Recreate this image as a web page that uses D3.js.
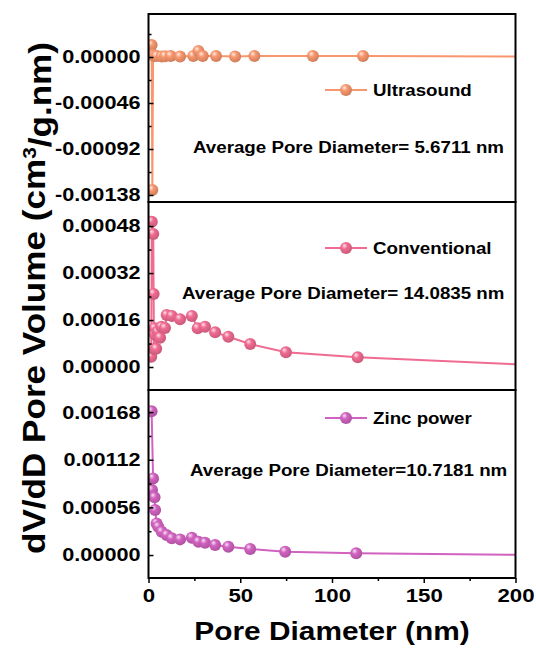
<!DOCTYPE html>
<html>
<head>
<meta charset="utf-8">
<script src="https://cdn.jsdelivr.net/npm/d3@7/dist/d3.min.js"></script>
<style>
  body { margin: 0; background: #fff; }
  text { font-family: Arial, "Liberation Sans", sans-serif; font-weight: bold; fill: #000; }
</style>
</head>
<body>
<svg id="chart" width="536" height="659"></svg>
<script>
// pore size distribution (BJH)
var ultraX = [1.5, 1.7, 2.1, 2.5, 3.2, 4.5, 7.2, 9.0, 12.1, 17.2, 24.4, 27.2, 29.6, 36.8, 47.2, 57.7, 89.6, 116.9, 230];
var ultraY = [0.00004, 0.00012, -0.00133, 0.00002, 0.00001, 0.00001, 0.000005, 0.000008, 0.00001, 0.000004, 0.00001, 0.00006, 0.00001, 0.00001, 0.000005, 0.00001, 0.00001, 0.00001, 0.000003];

var convX = [1.5, 1.8, 2.6, 2.8, 3.0, 3.3, 3.6, 4.2, 5.0, 6.3, 7.0, 9.0, 9.9, 12.7, 17.2, 23.6, 26.8, 30.8, 36.3, 43.5, 55.4, 74.9, 114, 230];
var convY = [0.000035, 0.000495, 0.000453, 0.000249, 0.000061, 0.000132, 0.00011, 0.000062, 0.00012, 0.0001, 0.000137, 0.000133, 0.000177, 0.000174, 0.000163, 0.000174, 0.000132, 0.000137, 0.000118, 0.000103, 0.0000783, 0.00005, 0.000033, 0.000001];

var zincX = [1.7, 2.5, 1.9, 3.3, 3.6, 4.4, 5.3, 7.2, 9.9, 12.7, 17.2, 23.6, 27.2, 30.8, 36.3, 43.5, 55.4, 74.5, 113.2, 230];
var zincY = [0.00169, 0.0009, 0.000764, 0.000678, 0.000529, 0.000372, 0.000333, 0.000274, 0.000235, 0.000196, 0.000184, 0.000203, 0.000156, 0.000144, 0.000117, 0.0000975, 0.0000705, 0.0000388, 0.00002, -0.000004];

var seriesNames = ["Ultrasound", "Conventional", "Zinc power"];
var avgLabels = ["Average Pore Diameter= 5.6711 nm", "Average Pore Diameter= 14.0835 nm", "Average Pore Diameter=10.7181 nm"];

// axis ranges and ticks
var xDomain = [0, 200];
var xMajor = [0, 50, 100, 150, 200];
var xMinor = [25, 75, 125, 175];
var yDomains = [[-0.00145, 0.00043], [-0.0000783, 0.000562], [-0.00027, 0.00194]];
var yMajor = [[0, -0.00046, -0.00092, -0.00138], [0, 0.00016, 0.00032, 0.00048], [0, 0.00056, 0.00112, 0.00168]];
var yMinor = [[0.00023, -0.00023, -0.00069, -0.00115], [0.00008, 0.00024, 0.0004], [0.00028, 0.00084, 0.0014]];

var colours = ["#F8976E", "#F06B92", "#D162C0"];

var SX = 1.17; // the figure's text is a little wider than plain Arial

var svg = d3.select("#chart");
var left = 148.5, right = 515.5;
var panelTops = [14, 202, 390], panelH = 188;

var x = d3.scaleLinear().domain(xDomain).range([left, right]);

var defs = svg.append("defs");

function stretch(sel) {
    sel.each(function() {
        var w = this.getComputedTextLength();
        d3.select(this).attr("textLength", w * SX).attr("lengthAdjust", "spacingAndGlyphs");
    });
}

var fmt = function(v) { return Math.abs(v) < 1e-12 ? "0.00000" : v.toFixed(5); };

var allData = [[ultraX, ultraY], [convX, convY], [zincX, zincY]];

allData.forEach(function(xy, i) {
    var top = panelTops[i];
    var y = d3.scaleLinear().domain(yDomains[i]).range([top + panelH, top]);
    var pts = xy[0].map(function(d, j) { return [d, xy[1][j]]; });
    var col = colours[i];

    // ball style marker
    var grad = defs.append("radialGradient").attr("id", "ball" + i)
        .attr("cx", 0.4).attr("cy", 0.38).attr("r", 0.62).attr("fx", 0.36).attr("fy", 0.3);
    grad.append("stop").attr("offset", 0).attr("stop-color", d3.interpolateRgb(col, "#fff")(0.8));
    grad.append("stop").attr("offset", 0.4).attr("stop-color", col);
    grad.append("stop").attr("offset", 1).attr("stop-color", d3.color(col).darker(0.5));

    defs.append("clipPath").attr("id", "clip" + i)
        .append("rect").attr("x", left).attr("y", top).attr("width", right - left).attr("height", panelH);

    var g = svg.append("g").attr("clip-path", "url(#clip" + i + ")");

    g.append("path")
        .datum(pts)
        .attr("fill", "none")
        .attr("stroke", col)
        .attr("stroke-width", 2)
        .attr("d", d3.line().x(function(d) { return x(d[0]); }).y(function(d) { return y(d[1]); }));

    g.selectAll(".dot" + i)
        .data(pts)
        .join("circle")
        .attr("class", "dot" + i)
        .attr("cx", function(d) { return x(d[0]); })
        .attr("cy", function(d) { return y(d[1]); })
        .attr("r", 6)
        .attr("fill", "url(#ball" + i + ")");

    // y axis, ticks inward
    var ya = svg.append("g").attr("transform", "translate(" + left + ",0)")
        .call(d3.axisLeft(y).tickValues(yMajor[i]).tickSize(-5).tickPadding(8).tickFormat(fmt));
    svg.append("g").attr("transform", "translate(" + left + ",0)")
        .call(d3.axisLeft(y).tickValues(yMinor[i]).tickSize(-3).tickFormat(""));
    ya.selectAll("text").style("font-size", "18.5px");
    stretch(ya.selectAll("text"));

    // frame
    svg.append("rect")
        .attr("x", left).attr("y", top).attr("width", right - left).attr("height", panelH)
        .attr("fill", "none").attr("stroke", "#000").attr("stroke-width", 2);

    // legend
    var ly = [90, 248, 418][i];
    svg.append("line").attr("x1", 325).attr("x2", 367).attr("y1", ly).attr("y2", ly)
        .attr("stroke", col).attr("stroke-width", 2);
    svg.append("circle").attr("cx", 346).attr("cy", ly).attr("r", 6).attr("fill", "url(#ball" + i + ")");
    svg.append("text").attr("x", 373).attr("y", ly + 5.5).style("font-size", "16px")
        .text(seriesNames[i]).call(stretch);

    // average pore diameter note
    var ax = [193, 182, 190][i], ay = [153, 299, 476][i];
    svg.append("text").attr("x", ax).attr("y", ay).style("font-size", "16px")
        .text(avgLabels[i]).call(stretch);
});

svg.selectAll(".domain").remove();

// x axis, ticks outward
var bottom = panelTops[2] + panelH;
var xa = svg.append("g").attr("transform", "translate(0," + bottom + ")")
    .call(d3.axisBottom(x).tickValues(xMajor).tickSize(5).tickPadding(6));
svg.append("g").attr("transform", "translate(0," + bottom + ")")
    .call(d3.axisBottom(x).tickValues(xMinor).tickSize(3).tickFormat(""));
xa.select(".domain").remove();
svg.selectAll(".domain").remove();
svg.selectAll(".tick line").attr("stroke", "#000").attr("stroke-width", 1.5);
xa.selectAll("text").style("font-size", "19px");
stretch(xa.selectAll("text"));

// axis titles
svg.append("text")
    .attr("x", 332).attr("y", 640)
    .attr("text-anchor", "middle")
    .style("font-size", "25.5px")
    .text("Pore Diameter (nm)")
    .call(stretch);

var yt = svg.append("text")
    .attr("transform", "translate(45,298) rotate(-90)")
    .attr("text-anchor", "middle")
    .style("font-size", "32px");
yt.append("tspan").text("dV/dD Pore Volume (cm");
yt.append("tspan").attr("dy", "-0.45em").style("font-size", "19px").text("3");
yt.append("tspan").attr("dy", "0.45em").text("/g.nm)");
yt.attr("textLength", 512).attr("lengthAdjust", "spacingAndGlyphs");
</script>
</body>
</html>
